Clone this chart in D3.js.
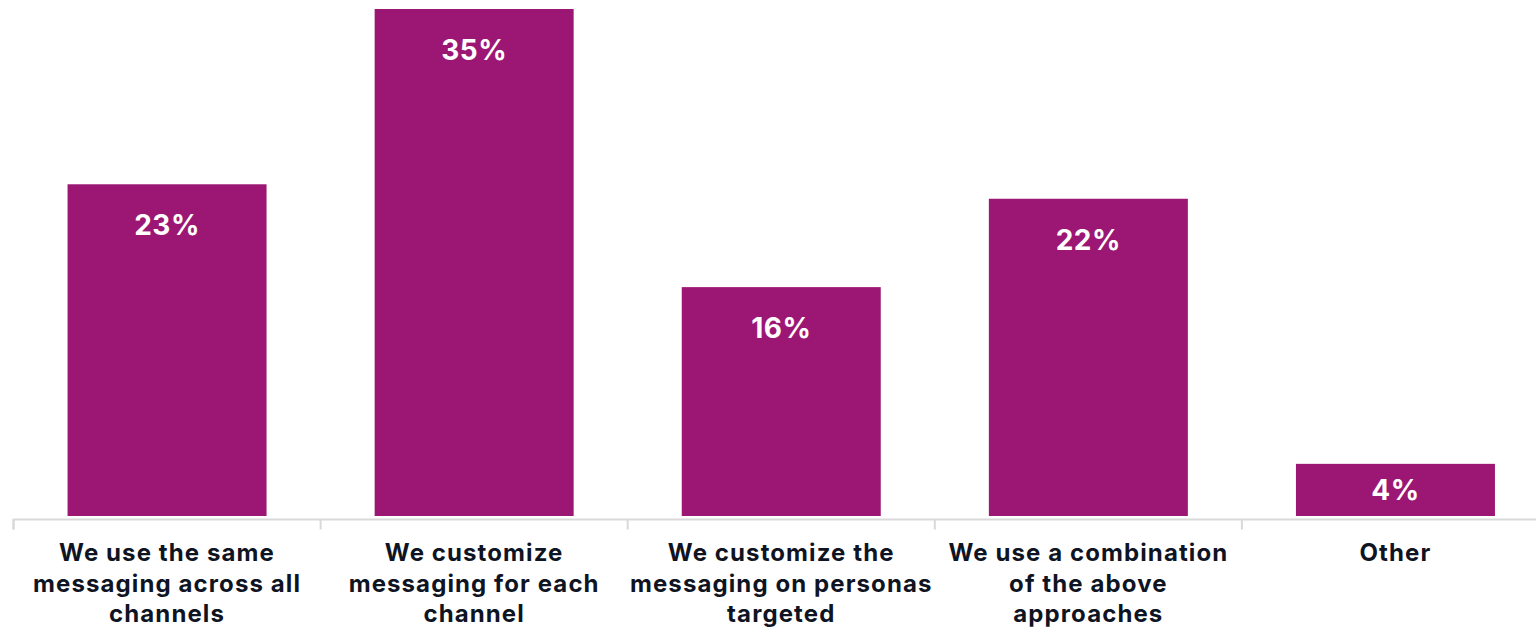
<!DOCTYPE html>
<html>
<head>
<meta charset="utf-8">
<script src="https://cdn.jsdelivr.net/npm/d3@7"></script>
<style>
  html, body { margin: 0; padding: 0; background: #ffffff; overflow: hidden; }
  svg { display: block; }
</style>
</head>
<body>
<svg id="chart" width="1536" height="627"></svg>
<script>
// ---- data ----
const categories = [
  "We use the same\nmessaging across all\nchannels",
  "We customize\nmessaging for each\nchannel",
  "We customize the\nmessaging on personas\ntargeted",
  "We use a combination\nof the above\napproaches",
  "Other"
];
const values = [22.9, 35, 15.8, 21.9, 3.6];
const valueLabels = ["23%", "35%", "16%", "22%", "4%"];

// ---- layout ----
const W = 1536, H = 627;
const svg = d3.select("#chart");
const barColor = "#9c1773";
const textColor = "#0f1423";
const axisColor = "#d9d9d9";

const x = d3.scaleBand()
  .domain(categories)
  .range([13.5, 1549])
  .paddingInner(0.352)
  .paddingOuter(0.176);

const y = d3.scaleLinear()
  .domain([0, 35])
  .range([516, 9]);

// bars
svg.selectAll("rect.bar")
  .data(values)
  .join("rect")
  .attr("class", "bar")
  .attr("x", (d, i) => x(categories[i]))
  .attr("y", d => y(d))
  .attr("width", x.bandwidth())
  .attr("height", d => y(0) - y(d))
  .attr("fill", barColor);

// value labels
svg.selectAll("text.val")
  .data(values)
  .join("text")
  .attr("class", "val")
  .attr("x", (d, i) => x(categories[i]) + x.bandwidth() / 2)
  .attr("y", d => {
    const h = y(0) - y(d);
    return y(d) + Math.min(51, h / 2 + 10);
  })
  .attr("text-anchor", "middle")
  .attr("fill", "#ffffff")
  .attr("font-family", "Inter, 'Open Sans', sans-serif")
  .attr("font-weight", 700)
  .attr("font-size", "28px")
  .attr("letter-spacing", "0.5px")
  .text((d, i) => valueLabels[i]);

// x axis
const axisY = 519.5;
const xAxis = d3.axisBottom(x).tickSize(10).tickFormat("");
const gx = svg.append("g").attr("transform", `translate(0,${axisY})`).call(xAxis);
gx.select(".domain").attr("stroke", axisColor).attr("stroke-width", 2)
  .attr("d", `M13.5,10V0H1549V0`);
gx.selectAll(".tick").remove();
const boundaries = categories.map(c => x(c) - x.step() * x.paddingInner() / 2);
gx.selectAll("line.bound")
  .data(boundaries)
  .join("line")
  .attr("class", "bound")
  .attr("x1", d => d).attr("x2", d => d)
  .attr("y1", 0).attr("y2", 10)
  .attr("stroke", axisColor)
  .attr("stroke-width", 2);

// category labels
const catG = svg.selectAll("text.cat")
  .data(categories)
  .join("text")
  .attr("class", "cat")
  .attr("x", d => x(d) + x.bandwidth() / 2)
  .attr("y", 561)
  .attr("text-anchor", "middle")
  .attr("fill", textColor)
  .attr("font-family", "Inter, 'Open Sans', sans-serif")
  .attr("font-weight", 700)
  .attr("font-size", "24px")
  .attr("letter-spacing", "1.1px");
catG.each(function(d) {
  const t = d3.select(this);
  d.split("\n").forEach((line, i) => {
    t.append("tspan")
      .attr("x", x(d) + x.bandwidth() / 2)
      .attr("dy", i === 0 ? 0 : 30.5)
      .text(line);
  });
});
</script>
</body>
</html>
